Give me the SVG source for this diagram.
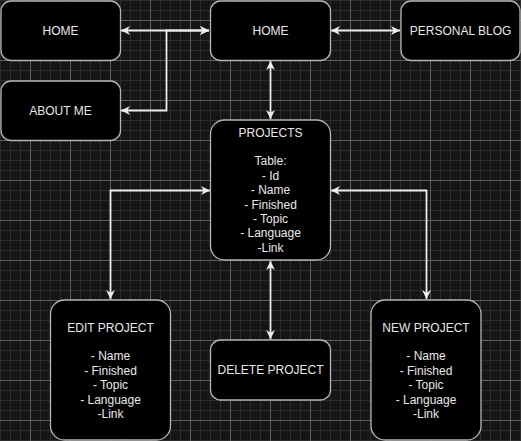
<svg xmlns="http://www.w3.org/2000/svg" width="521" height="441" viewBox="0 0 521 441">
<defs>
<pattern id="grid" x="30" y="20" width="40" height="40" patternUnits="userSpaceOnUse">
<rect width="40" height="40" fill="#151515"/>
<path d="M10.5 0V40M20.5 0V40M30.5 0V40M0 10.5H40M0 20.5H40M0 30.5H40" stroke="#2c2c2c" stroke-width="1"/>
<path d="M0.5 0V40M0 0.5H40" stroke="#5e5e5e" stroke-width="1"/>
</pattern>
<marker id="arr" viewBox="0 0 10 10" refX="10" refY="5" markerWidth="9" markerHeight="9" markerUnits="userSpaceOnUse" orient="auto-start-reverse">
<path d="M0,0 L10,5 L0,10 L3,5 z" fill="#eeeeee"/>
</marker>
</defs>
<style>
.node rect{fill:#000;stroke:#b5b5b5;stroke-width:1.3}
.node text{fill:#e8e8e8;font-family:"Liberation Sans",Arial,sans-serif;font-size:12px;text-anchor:middle}
.edges path{fill:none;stroke:#eeeeee;stroke-width:1.8;marker-start:url(#arr);marker-end:url(#arr)}
</style>
<rect width="521" height="441" fill="url(#grid)"/>
<g class="edges">
<path d="M121 30.5H209"/>
<path d="M209 30.5H166.5V110.5H121"/>
<path d="M331 30.5H400"/>
<path d="M270.5 61V119"/>
<path d="M210 190.5H110.5V299"/>
<path d="M331 190.5H426.5V299"/>
<path d="M270.5 261V339"/>
</g>
<g id="home1" class="node"><rect x="1" y="1" width="119.5" height="59.5" rx="10"/><text x="60.5" y="34.5">HOME</text></g>
<g id="aboutme" class="node"><rect x="1" y="81" width="119.5" height="59.5" rx="10"/><text x="60.5" y="114.5">ABOUT ME</text></g>
<g id="home2" class="node"><rect x="210.5" y="1" width="120" height="59.5" rx="10"/><text x="270.5" y="34.5">HOME</text></g>
<g id="blog" class="node"><rect x="401" y="1" width="119" height="59.5" rx="10"/><text x="460.5" y="34.5">PERSONAL BLOG</text></g>
<g id="projects" class="node"><rect x="210.5" y="120" width="120" height="140" rx="14"/>
<text x="270.5" y="136.6">PROJECTS</text>
<text x="270.5" y="165.4">Table:</text>
<text x="270.5" y="179.8">- Id</text>
<text x="270.5" y="194.2">- Name</text>
<text x="270.5" y="208.6">- Finished</text>
<text x="270.5" y="223">- Topic</text>
<text x="270.5" y="237.4">- Language</text>
<text x="270.5" y="251.8">-Link</text>
</g>
<g id="edit" class="node"><rect x="50.5" y="300" width="120" height="140" rx="14"/>
<text x="110.5" y="331.6">EDIT PROJECT</text>
<text x="110.5" y="360.4">- Name</text>
<text x="110.5" y="374.8">- Finished</text>
<text x="110.5" y="389.2">- Topic</text>
<text x="110.5" y="403.6">- Language</text>
<text x="110.5" y="418">-Link</text>
</g>
<g id="delete" class="node"><rect x="210.5" y="340" width="120" height="60" rx="10"/><text x="270.5" y="374.3">DELETE PROJECT</text></g>
<g id="new" class="node"><rect x="371" y="300" width="110" height="140" rx="14"/>
<text x="426" y="331.6">NEW PROJECT</text>
<text x="426" y="360.4">- Name</text>
<text x="426" y="374.8">- Finished</text>
<text x="426" y="389.2">- Topic</text>
<text x="426" y="403.6">- Language</text>
<text x="426" y="418">-Link</text>
</g>
</svg>
